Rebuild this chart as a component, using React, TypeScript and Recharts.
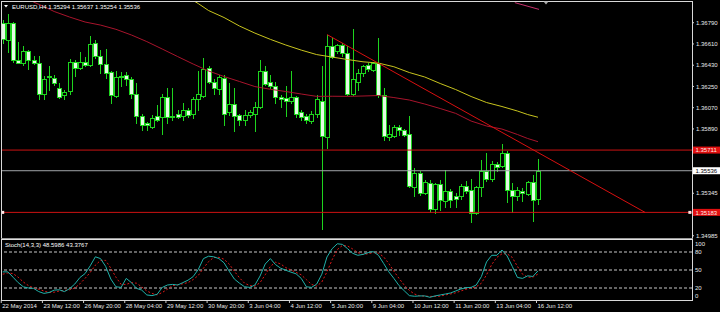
import { ComposedChart, Bar, Line, XAxis, YAxis, ReferenceLine, ReferenceDot } from "recharts";

// EURUSD H4 candles, 22 May - 16 Jun 2014
const opens = [
  1.3679, 1.3664, 1.3679, 1.3647, 1.3645, 1.3655, 1.3647, 1.3645, 1.3619, 1.3633,
  1.3632, 1.3624, 1.3618, 1.3621, 1.3646, 1.3641, 1.3646, 1.3643, 1.3662, 1.3651,
  1.3644, 1.3637, 1.3617, 1.3633, 1.3635, 1.3631, 1.3619, 1.36, 1.3594, 1.3591,
  1.36, 1.3599, 1.3616, 1.3599, 1.3602, 1.36, 1.3605, 1.3602, 1.3614, 1.3617,
  1.3641, 1.3629, 1.3623, 1.3632, 1.3603, 1.361, 1.3601, 1.3597, 1.3601, 1.3602,
  1.3608, 1.3638, 1.3629, 1.3625, 1.3616, 1.3615, 1.3613, 1.3616, 1.3603, 1.36,
  1.3596, 1.3602, 1.3613, 1.3582, 1.3659, 1.3655, 1.366, 1.3653, 1.3619, 1.3629,
  1.3636, 1.3643, 1.3639, 1.3645, 1.3618, 1.3582, 1.3583, 1.3591, 1.3588, 1.3585,
  1.354, 1.3552, 1.3535, 1.3543, 1.3521, 1.3542, 1.3528, 1.3536, 1.3532, 1.3532,
  1.3541, 1.3537, 1.3518, 1.354, 1.3553, 1.3547, 1.3559, 1.3558, 1.3569, 1.3537,
  1.3532, 1.3536, 1.3534, 1.3544, 1.35294,
];
const highs = [
  1.3681, 1.3686, 1.368, 1.3663, 1.3659, 1.3656, 1.3651, 1.3651, 1.3634, 1.3642,
  1.3635, 1.3628, 1.3622, 1.3648, 1.3647, 1.3654, 1.365, 1.3668, 1.3664, 1.3656,
  1.3657, 1.3638, 1.3638, 1.3637, 1.3637, 1.3633, 1.3628, 1.3602, 1.3595, 1.3601,
  1.3609, 1.3619, 1.3624, 1.3624, 1.3605, 1.3611, 1.3607, 1.3616, 1.3638, 1.3649,
  1.3642, 1.3631, 1.3635, 1.3635, 1.3628, 1.3624, 1.3602, 1.3605, 1.3605, 1.3612,
  1.3647, 1.3642, 1.3635, 1.3629, 1.3618, 1.3625, 1.3638, 1.3617, 1.3605, 1.3602,
  1.3604, 1.3618, 1.3642, 1.3669, 1.3666, 1.3661, 1.3662, 1.3659, 1.3674, 1.364,
  1.3643, 1.3645, 1.3646, 1.3666, 1.3624, 1.3592, 1.3592, 1.3592, 1.3589, 1.36,
  1.3556, 1.3553, 1.3546, 1.3546, 1.3543, 1.3546, 1.3554, 1.3538, 1.3535, 1.3542,
  1.3545, 1.3547, 1.3541, 1.3563, 1.3569, 1.3562, 1.3561, 1.3576, 1.357, 1.3543,
  1.354, 1.3539, 1.3545, 1.355, 1.35637,
];
const lows = [
  1.3662, 1.3654, 1.3646, 1.3645, 1.3643, 1.364, 1.3644, 1.3614, 1.3614, 1.3622,
  1.3626, 1.3615, 1.3614, 1.3619, 1.3634, 1.364, 1.3642, 1.3642, 1.3649, 1.3636,
  1.3632, 1.3611, 1.3616, 1.3625, 1.3626, 1.3615, 1.3594, 1.3588, 1.3588, 1.359,
  1.3596, 1.3585, 1.3594, 1.3597, 1.3598, 1.3597, 1.3599, 1.3598, 1.3605, 1.3616,
  1.3628, 1.3619, 1.3619, 1.3592, 1.3601, 1.3587, 1.3592, 1.3592, 1.3599, 1.3587,
  1.3607, 1.3626, 1.3624, 1.3611, 1.3608, 1.36, 1.3611, 1.3599, 1.3597, 1.3594,
  1.3594, 1.3599, 1.3504, 1.3573, 1.3649, 1.3653, 1.3651, 1.3618, 1.3618, 1.3622,
  1.3634, 1.3638, 1.3638, 1.3616, 1.358, 1.358, 1.3582, 1.3584, 1.3583, 1.354,
  1.3532, 1.3533, 1.3534, 1.3519, 1.3518, 1.352, 1.3523, 1.3523, 1.3523, 1.353,
  1.3535, 1.351, 1.3517, 1.3532, 1.3545, 1.3545, 1.3553, 1.3557, 1.3527, 1.3519,
  1.3529, 1.3528, 1.3533, 1.3511, 1.35254,
];
const closes = [
  1.3665, 1.3679, 1.3647, 1.3645, 1.3655, 1.3647, 1.3645, 1.3619, 1.3631, 1.3634,
  1.3628, 1.3616, 1.362, 1.3646, 1.3641, 1.3646, 1.3643, 1.3661, 1.3651, 1.3644,
  1.3636, 1.3618, 1.3633, 1.3634, 1.3631, 1.3619, 1.36, 1.3592, 1.3592, 1.3598,
  1.3597, 1.3616, 1.3599, 1.36, 1.3599, 1.3605, 1.3601, 1.3614, 1.3619, 1.364,
  1.3629, 1.3624, 1.3633, 1.3602, 1.361, 1.36, 1.3597, 1.3601, 1.3603, 1.3608,
  1.3638, 1.3627, 1.3625, 1.3616, 1.3614, 1.3613, 1.3616, 1.3602, 1.3599, 1.3597,
  1.3602, 1.3614, 1.3583, 1.3659, 1.365, 1.366, 1.3653, 1.3619, 1.3631, 1.3636,
  1.3642, 1.364, 1.3645, 1.3618, 1.3583, 1.3585, 1.3591, 1.3588, 1.3584, 1.3541,
  1.3552, 1.3535, 1.3544, 1.3521, 1.3542, 1.3529, 1.3536, 1.3529, 1.353, 1.3541,
  1.3536, 1.3518, 1.354, 1.3553, 1.3547, 1.3559, 1.3557, 1.3569, 1.3537, 1.3532,
  1.3537, 1.3535, 1.3544, 1.3529, 1.35536,
];

// moving averages, read at sampled bars: [bar, price]
const maSlowPts = [
  [35, 1.37033], [38, 1.36952], [40, 1.36893], [43, 1.36834], [46, 1.36762], [49, 1.36702],
  [52, 1.36649], [55, 1.36601], [58, 1.36558], [61, 1.3652], [64, 1.36499], [67, 1.36478],
  [70, 1.36459], [73, 1.36448], [76, 1.36417], [79, 1.36368], [82, 1.3633], [85, 1.36275],
  [88, 1.36224], [91, 1.36165], [94, 1.36114], [97, 1.3608], [100, 1.36042], [102, 1.36012],
  [104, 1.35989],
];
const maFastPts = [
  [4, 1.37016], [6, 1.36965], [8, 1.36927], [10, 1.36885], [13, 1.36838], [16, 1.36796],
  [19, 1.3677], [22, 1.36734], [25, 1.36686], [28, 1.3663], [31, 1.36567], [34, 1.36503],
  [37, 1.3644], [40, 1.36381], [43, 1.36334], [46, 1.36292], [49, 1.36249], [52, 1.36226],
  [55, 1.36207], [58, 1.36186], [61, 1.36166], [64, 1.36167], [67, 1.36166], [70, 1.36169],
  [73, 1.36173], [76, 1.36156], [79, 1.36135], [82, 1.36101], [85, 1.36063], [88, 1.36022],
  [91, 1.35957], [94, 1.35915], [97, 1.35889], [100, 1.35843], [102, 1.35809], [104, 1.35782],
];

// Stoch(14,3,3)
const stochK = [
  46.9, 46.9, 38, 29, 22, 20, 19.4, 14, 11, 12.5,
  16.5, 17, 14, 19, 26.6, 37.5, 44, 57, 72, 69,
  56, 35, 22, 21, 36, 29, 19.4, 16.5, 8.4, 7.3,
  9.5, 21, 25, 26, 25, 29, 33, 39, 51, 69,
  73, 72, 69, 62, 48, 35, 28, 22, 21, 25,
  40, 60, 69, 59, 53, 49.6, 46.4, 43.6, 36, 22,
  21, 26.5, 43, 71.7, 85.5, 93.7, 92.7, 85.5, 77.8, 74.5,
  76, 79, 80.6, 74.5, 61, 47, 36, 24, 15.5, 7.3,
  6.2, 6.8, 6.8, 4.5, 6.8, 8.4, 10, 11.7, 15, 18.3,
  20.5, 21, 25, 39, 63.5, 74.5, 74.5, 83.3, 73.4, 56,
  37.6, 36, 40.3, 39.2, 48.6,
];
const stochD = [
  43, 45, 44, 38, 30, 24, 20, 18, 15, 12.5,
  13, 15, 16, 17, 20, 27, 36, 46, 58, 66,
  66, 53, 38, 26, 26, 29, 28, 22, 15, 11,
  8.5, 12.5, 18, 24, 25.5, 27, 29, 34, 41, 53,
  64, 71, 71, 68, 60, 48, 37, 28, 24, 23,
  29, 42, 56, 63, 60, 54, 50, 46, 42, 34,
  26, 23, 30, 47, 67, 84, 91, 90, 85, 79,
  76, 77, 79, 78, 72, 61, 48, 36, 25, 16,
  10, 7, 6.5, 6, 6, 6.5, 8.5, 10, 12, 15,
  18, 20, 22, 28, 42, 59, 71, 77, 77, 71,
  56, 43, 38, 38, 43.4,
];

const timeTickBars = [0, 8, 16, 24, 32, 40, 48, 56, 64, 72, 80, 88, 96, 104];
const timeLabels = [
  "22 May 2014", "23 May 12:00", "26 May 20:00", "28 May 04:00", "29 May 12:00",
  "30 May 20:00", "3 Jun 04:00", "4 Jun 12:00", "5 Jun 20:00", "9 Jun 04:00",
  "10 Jun 12:00", "11 Jun 20:00", "13 Jun 04:00", "16 Jun 12:00",
];
const priceTicks = [1.3679, 1.3661, 1.3643, 1.3625, 1.3607, 1.3589, 1.35711, 1.35536, 1.35345, 1.35183, 1.34985];
const levels = [1.35711, 1.35183];
const bid = 1.35536;
const trendLine = [{ x: 63, y: 1.3669 }, { x: 124.8, y: 1.35183 }];
const otherLine = [{ x: 99.5, y: 1.3696 }, { x: 104.2, y: 1.36903 }];
const stochTicks = [0, 20, 50, 80, 100];
const stochLevels = [80, 50, 20];

const rows = opens.map((o, i) => ({
  i,
  open: o,
  high: highs[i],
  low: lows[i],
  close: closes[i],
  maSlow: null as number | null,
  maFast: null as number | null,
  k: stochK[i],
  d: stochD[i],
}));
maSlowPts.forEach(([i, v]) => (rows[i].maSlow = v));
maFastPts.forEach(([i, v]) => (rows[i].maFast = v));

const X_DOMAIN = [-0.14, 133.92];
const P_DOMAIN = [1.34966, 1.36974];
const GREEN = "#1ed41e";
const BEAR_FILL = "#e4fae4";
const FONT = "'Liberation Sans', Arial, sans-serif";
const AXIS_X = 692;

function Candle(props: any) {
  const { x, y, width, height, payload } = props;
  if (payload == null || x == null || y == null) return null;
  let top = y;
  let h = height;
  if (h < 0) {
    top = y + h;
    h = -h;
  }
  const cx = Math.round(x + width / 2 - 0.5) + 0.5;
  const range = payload.high - payload.low;
  const k = range > 0 ? h / range : 0;
  const bTop = Math.round(top + (payload.high - Math.max(payload.open, payload.close)) * k) + 0.5;
  const bBot = Math.round(top + (payload.high - Math.min(payload.open, payload.close)) * k) + 0.5;
  const bear = payload.close < payload.open;
  return (
    <g>
      <line x1={cx} x2={cx} y1={Math.round(top)} y2={Math.round(top + h) + 1} stroke={GREEN} strokeWidth={1} />
      <rect
        x={cx - 2}
        y={bTop}
        width={4}
        height={Math.max(bBot - bTop, 1)}
        fill={bear ? BEAR_FILL : "#000"}
        stroke={GREEN}
        strokeWidth={1}
      />
    </g>
  );
}

function PriceTick(props: any) {
  const { y, payload } = props;
  const v = payload.value;
  const label = v.toFixed(5);
  if (levels.includes(v)) {
    return (
      <g>
        <rect x={693} y={y - 3.5} width={27} height={7} fill="#e01010" />
        <text x={695.5} y={y + 2.3} fontSize={6} fill="#ffe8e8" fontFamily={FONT}>{label}</text>
      </g>
    );
  }
  if (v === bid) {
    return (
      <g>
        <rect x={693} y={y - 3.5} width={27} height={7} fill="#ffffff" />
        <text x={695.5} y={y + 2.3} fontSize={6} fill="#000" fontFamily={FONT}>{label}</text>
      </g>
    );
  }
  return (
    <g>
      <line x1={AXIS_X} x2={AXIS_X + 2} y1={y} y2={y} stroke="#d0d0d0" />
      <text x={696} y={y + 2.2} fontSize={6} fill="#e8e8e8" fontFamily={FONT}>{label}</text>
    </g>
  );
}

function StochTick(props: any) {
  const { y, payload } = props;
  const cy = Math.min(Math.max(y, 4), 56);
  return (
    <text x={695} y={cy + 2.2} fontSize={6} fill="#e8e8e8" fontFamily={FONT}>
      {payload.value}
    </text>
  );
}

function TimeTick(props: any) {
  const { x, payload } = props;
  const idx = timeTickBars.indexOf(payload.value);
  return (
    <g>
      <line x1={x - 1.5} x2={x - 1.5} y1={60} y2={63} stroke="#d0d0d0" />
      <text x={x - 0.5} y={67.5} fontSize={6} fill="#e8e8e8" fontFamily={FONT}>
        {timeLabels[idx]}
      </text>
    </g>
  );
}

function AnchorBox(props: any) {
  return <rect x={props.cx - 1.5} y={props.cy - 1.5} width={3} height={3} fill="#ffe0e0" />;
}

export default function App() {
  return (
    <div style={{ position: "absolute", left: 0, top: 0, width: 720, height: 312, background: "#000", overflow: "hidden" }}>
      <div style={{ position: "absolute", left: 0, top: 0 }}>
        <ComposedChart width={720} height={240} data={rows} margin={{ top: 1, right: 0, bottom: 2, left: 2 }}>
          <XAxis type="number" dataKey="i" domain={X_DOMAIN} allowDataOverflow hide />
          <YAxis
            orientation="right"
            width={28}
            domain={P_DOMAIN}
            allowDataOverflow
            ticks={priceTicks}
            interval={0}
            tick={<PriceTick />}
            axisLine={false}
            tickLine={false}
          />
          <Bar dataKey={(d: any) => [d.low, d.high]} shape={<Candle />} barSize={4} isAnimationActive={false} />
          <Line dataKey="maFast" stroke="#a8142c" strokeWidth={1} dot={false} connectNulls isAnimationActive={false} />
          <Line dataKey="maSlow" stroke="#c8c41e" strokeWidth={1} dot={false} connectNulls isAnimationActive={false} />
          {levels.map((p) => (
            <ReferenceLine key={p} y={p} stroke="#cc1212" strokeWidth={1} />
          ))}
          <ReferenceLine y={bid} stroke="#a0a4a8" strokeWidth={1} />
          <ReferenceLine segment={trendLine} stroke="#d81010" strokeWidth={1} />
          <ReferenceLine segment={otherLine} stroke="#c8306c" strokeWidth={1} ifOverflow="hidden" />
          <ReferenceDot x={0} y={levels[1]} shape={<AnchorBox />} />
          <ReferenceDot x={133.5} y={levels[1]} shape={<AnchorBox />} />
        </ComposedChart>
      </div>
      <div style={{ position: "absolute", left: 0, top: 240 }}>
        <ComposedChart width={720} height={72} data={rows} margin={{ top: 0, right: 0, bottom: 0, left: 2 }}>
          <XAxis
            type="number"
            dataKey="i"
            domain={X_DOMAIN}
            allowDataOverflow
            ticks={timeTickBars}
            interval={0}
            tick={<TimeTick />}
            height={12}
            axisLine={false}
            tickLine={false}
          />
          <YAxis
            orientation="right"
            width={28}
            domain={[0, 100]}
            allowDataOverflow
            ticks={stochTicks}
            interval={0}
            tick={<StochTick />}
            axisLine={false}
            tickLine={false}
          />
          {stochLevels.map((l) => (
            <ReferenceLine key={l} y={l} stroke="#c8c8c8" strokeDasharray="3 2" strokeWidth={1} />
          ))}
          <Line dataKey="d" stroke="#e01818" strokeDasharray="2 2" strokeWidth={1} dot={false} isAnimationActive={false} />
          <Line dataKey="k" stroke="#20b2aa" strokeWidth={1} dot={false} isAnimationActive={false} />
        </ComposedChart>
      </div>
      <svg width={720} height={312} style={{ position: "absolute", left: 0, top: 0, pointerEvents: "none" }}>
        <line x1={1} x2={693} y1={1.5} y2={1.5} stroke="#d8d8d8" />
        <line x1={1.5} x2={1.5} y1={1} y2={301} stroke="#d8d8d8" />
        <line x1={692.5} x2={692.5} y1={1} y2={301} stroke="#d8d8d8" />
        <line x1={1} x2={693} y1={238.5} y2={238.5} stroke="#9a9a9a" />
        <line x1={1} x2={693} y1={239.5} y2={239.5} stroke="#e0e0e0" />
        <line x1={1} x2={693} y1={300.5} y2={300.5} stroke="#d8d8d8" />
        <polygon points="4,5 8,5 6,7.5" fill="#ffffff" />
        <polygon points="543.5,1.5 548.5,1.5 546,4.5" fill="#a8a8a8" />
        <text x={12} y={8.5} fontSize={6} fill="#ffffff" fontFamily={FONT}>
          EURUSD,H4  1.35294 1.35637 1.35254 1.35536
        </text>
        <text x={5} y={246.8} fontSize={6} fill="#ffffff" fontFamily={FONT}>
          Stoch(14,3,3) 48.5986 43.3767
        </text>
      </svg>
    </div>
  );
}
